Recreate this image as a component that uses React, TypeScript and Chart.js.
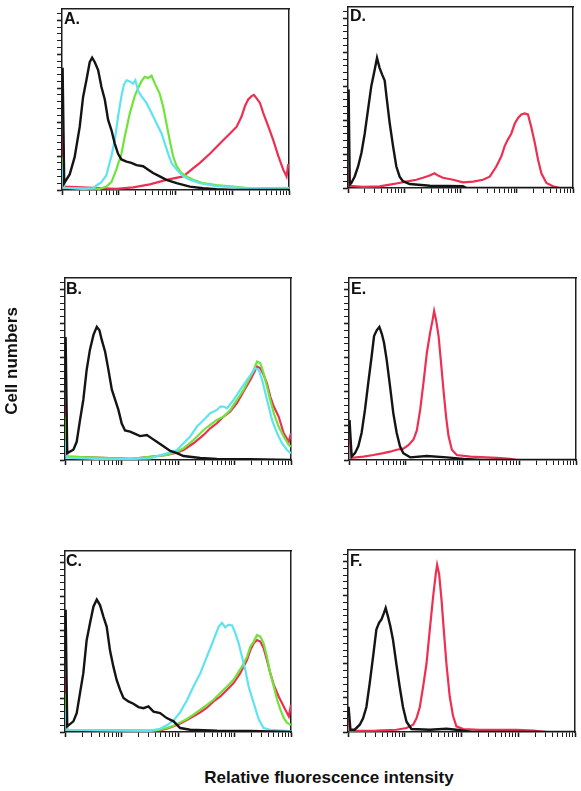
import React, { useEffect, useRef } from 'react';
import { Chart, registerables } from 'chart.js';

Chart.register(...registerables);

// ---------- axis definitions ----------
const channelsPerDecade = 256; // 4-decade log amplifier, 1024 channels
const channelMax = 1024;
const decadeStarts = [1, 10, 100, 1000];
const decadeMultipliers = [1, 2, 3, 4, 5, 6, 7, 8, 9];
const countMax = 160;
const countMinorStep = 6;
const countMajorStep = 30;

// ---------- data: [channel, cell count] ----------
// Panel A
const aBlack: number[][] = [[0,108],[3,104],[10,6],[35,14],[57,29],[80,56],[95,82],[110,97],[125,113],[136,117],[148,113],[163,106],[178,91],[193,80],[208,62],[223,53],[238,41],[253,32],[268,27],[291,25],[313,24],[336,22],[366,21],[389,18],[411,15],[441,12],[471,9],[517,6],[577,3],[637,1.5],[697,0.6],[773,0],[1024,0]];
const aCyan: number[][] = [[0,21],[3,18],[10,2],[95,1],[140,1.5],[155,4],[178,7],[200,13],[223,30],[238,44],[253,65],[268,83],[279,93],[291,97],[306,96],[321,94],[331,97],[343,88],[358,83],[381,77],[404,68],[426,59],[449,50],[464,41],[479,32],[494,24],[517,18],[547,12],[577,9],[622,6],[697,3.5],[773,2.4],[848,1.5],[1024,2]];
const aGreen: number[][] = [[0,29],[3,26],[10,2],[170,1],[200,3],[223,7],[245,18],[268,32],[283,47],[306,68],[328,83],[343,90],[358,96],[373,100],[389,99],[404,101],[419,94],[441,85],[456,74],[471,59],[486,44],[501,30],[517,21],[539,15],[562,12],[592,9],[637,6],[697,4.4],[773,3],[848,1.5],[1024,1]];
const aRed: number[][] = [[0,50],[3,46],[10,3],[245,1],[321,2.4],[396,5],[471,9],[547,12],[584,18],[622,24],[667,32],[697,38],[727,44],[758,50],[788,56],[810,65],[825,74],[840,80],[855,83],[866,84],[878,81],[893,77],[908,68],[931,56],[953,44],[976,30],[998,18],[1013,12],[1020,22],[1024,22]];

// Panel B
const bBlack: number[][] = [[0,108],[3,106],[10,6],[38,9],[53,16],[68,35],[83,53],[98,79],[113,97],[129,110],[144,117],[156,114],[166,106],[182,95],[197,79],[212,62],[227,53],[242,44],[257,32],[272,26],[295,25],[318,23],[340,21],[371,22],[393,19],[416,16],[446,12],[477,8],[507,6],[537,3.5],[613,1.8],[688,1],[840,0.6],[1024,0]];
const bCyan: number[][] = [[0,17],[3,15],[10,2],[200,0.5],[300,1],[386,1.5],[461,5.9],[507,8.8],[537,14.7],[567,20.6],[598,29.4],[628,35.2],[658,41.1],[688,44],[704,47],[719,47],[734,45.5],[764,52.8],[794,61.7],[825,70.5],[847,76.3],[862,80.7],[878,79.3],[893,70.5],[908,58.7],[923,47],[938,35.2],[961,23.5],[983,14.7],[1006,8.8],[1024,5.9]];
const bGreen: number[][] = [[0,38],[3,36],[10,3],[300,1],[461,4.4],[507,7.3],[537,10.3],[582,17.6],[628,26.4],[658,30.8],[688,35.2],[719,38.2],[749,44],[779,52.8],[809,61.7],[840,73.4],[855,79.3],[870,86.6],[885,85.1],[900,76.3],[915,64.6],[930,52.8],[946,41.1],[968,29.4],[991,20.6],[1014,13.2],[1024,11.7]];
const bRed: number[][] = [[0,50],[3,48],[10,3],[300,1],[461,4.4],[507,6.5],[537,8.8],[582,14.7],[628,22],[658,27.9],[688,32.3],[719,38.2],[749,42.6],[779,50],[809,60.2],[840,70.5],[855,76.3],[870,82.2],[885,80.7],[900,74.9],[915,67.5],[930,55.8],[946,47],[968,38.2],[991,23.5],[1014,16],[1024,23.5]];

// Panel C
const cBlack: number[][] = [[0,108],[3,106],[10,5],[38,9.4],[53,16.7],[68,34.4],[83,52],[98,81],[113,96],[129,111],[144,117],[159,112],[174,102],[189,93],[204,72],[219,58],[234,46],[250,37],[265,30],[287,27],[310,25],[333,22],[356,21],[378,22.6],[401,18],[431,16.7],[461,12.3],[492,9.4],[522,3.5],[567,2],[688,1.2],[840,0.9],[1024,0]];
const cCyan: number[][] = [[0,20],[3,18],[10,2],[386,1.2],[431,2.9],[461,5.9],[492,10.3],[522,17.6],[552,27.9],[582,40.2],[613,52],[643,66.6],[673,81.3],[696,93],[711,96.6],[726,92.5],[741,94.8],[757,94.2],[772,87.2],[787,78.4],[802,66.6],[817,54.9],[832,40.2],[855,25.5],[878,10.9],[900,3.5],[930,2],[991,1.2],[1024,0.6]];
const cGreen: number[][] = [[0,34],[3,32],[10,2],[386,1],[431,2],[461,3.5],[492,5.6],[522,8.5],[552,11.5],[582,15.3],[613,19.7],[643,24],[673,28.5],[704,34.4],[734,40.2],[764,46.1],[787,53.4],[802,57.8],[825,66.6],[840,75.5],[855,79.9],[870,85.7],[885,84.3],[900,78.4],[915,66.6],[930,52],[946,40.2],[961,28.5],[976,19.7],[991,12.4],[1006,8],[1024,6.5]];
const cRed: number[][] = [[0,49],[3,47],[10,2],[386,1],[431,1.5],[461,3],[492,5],[522,7.5],[552,10.5],[582,13.8],[613,17.5],[643,21.5],[673,27],[704,31.4],[734,37.3],[764,43.2],[794,52],[825,63.7],[840,72.5],[855,78.4],[870,81.3],[885,79.9],[900,74],[915,63.7],[930,52],[946,41.7],[968,31.4],[991,22.6],[1014,13.8],[1024,24]];

// Panel D
const dBlack: number[][] = [[0,87],[3,84],[8,3],[15,4.4],[30,10],[46,19],[61,31],[76,48],[91,69],[106,90],[121,104],[132,115],[144,106],[156,100],[167,95],[177,78],[190,57],[205,37],[220,19],[235,10],[250,6],[281,3.5],[372,2],[523,1.5],[540,0],[1024,0]];
const dRed: number[][] = [[0,16],[3,14],[8,2],[68,1],[144,1.5],[190,3],[220,4],[265,5.6],[311,7.3],[341,9],[372,11],[394,13],[410,11],[432,9],[478,7.3],[523,5],[569,5.6],[614,7.3],[645,10],[675,19],[698,28],[713,37],[728,43],[743,48],[759,57],[774,62],[789,65],[804,66],[819,65],[834,54],[850,40],[865,25],[880,13],[903,4.4],[933,1.5],[963,0],[1024,0]];

// Panel E
const eBlack: number[][] = [[0,35],[3,33],[12,3],[27,6],[42,12],[57,24],[72,44],[87,68],[102,91],[113,109],[125,114],[137,117],[148,111],[158,103],[170,88],[185,65],[200,41],[215,24],[230,12],[245,6],[276,2.3],[351,3.5],[441,2.3],[517,1],[600,0],[1024,0]];
const eRed: number[][] = [[0,21],[3,19],[12,2],[65,3],[110,4.4],[155,6],[185,7.3],[215,9],[245,10],[268,13],[291,18],[306,26],[321,44],[336,68],[351,94],[366,112],[377,123],[384,131],[393,123],[404,109],[414,88],[426,62],[438,38],[449,21],[464,9],[486,4.4],[547,3],[667,1.8],[727,1],[758,0],[1024,0]];

// Panel F
const fBlack: number[][] = [[0,22],[3,21],[11,2],[30,2],[53,6.4],[68,12],[83,22],[98,43],[113,66],[128,90],[140,96],[151,99],[161,104],[170,109],[181,101],[191,93],[203,81],[218,60],[233,40],[248,22],[264,9],[286,2.6],[369,2],[444,2.9],[489,2],[560,0],[1024,0]];
const fRed: number[][] = [[0,11],[3,10],[10,1],[128,1.2],[218,2],[264,3.5],[294,6.4],[309,12],[324,22],[339,40],[354,60],[369,90],[384,119],[396,139],[402,147],[411,139],[422,116],[432,90],[444,60],[459,31],[474,14],[489,5],[520,2.6],[595,1.8],[761,1.8],[836,1.2],[900,0],[1024,0]];

const panelLabels = ['A.', 'B.', 'C.', 'D.', 'E.', 'F.'];
const yAxisTitle = 'Cell numbers';
const xAxisTitle = 'Relative fluorescence intensity';

// ---------- styles ----------
const BLACK = '#141414';
const CYAN = '#5fe4ee';
const GREEN = '#6fe43a';
const RED = '#ee2f52';
const AXIS = '#1e1e1e';
const FONT = '"Liberation Sans", Arial, Helvetica, sans-serif';

type Series = { data: number[][]; color: string; order: number };
type PanelDef = { label: string; box: { l: number; t: number; r: number; b: number }; labelPos: { x: number; y: number }; series: Series[] };

const panels: PanelDef[] = [
  { label: panelLabels[0], box: { l: 62, t: 9, r: 289, b: 190 }, labelPos: { x: 64, y: 11 },
    series: [{ data: aRed, color: RED, order: 3 }, { data: aGreen, color: GREEN, order: 2 }, { data: aCyan, color: CYAN, order: 1 }, { data: aBlack, color: BLACK, order: 0 }] },
  { label: panelLabels[1], box: { l: 65, t: 278, r: 291, b: 460 }, labelPos: { x: 66, y: 281 },
    series: [{ data: bRed, color: RED, order: 3 }, { data: bGreen, color: GREEN, order: 2 }, { data: bCyan, color: CYAN, order: 1 }, { data: bBlack, color: BLACK, order: 0 }] },
  { label: panelLabels[2], box: { l: 65, t: 551, r: 291, b: 732 }, labelPos: { x: 66, y: 553 },
    series: [{ data: cRed, color: RED, order: 3 }, { data: cGreen, color: GREEN, order: 2 }, { data: cCyan, color: CYAN, order: 1 }, { data: cBlack, color: BLACK, order: 0 }] },
  { label: panelLabels[3], box: { l: 348, t: 7, r: 573, b: 188 }, labelPos: { x: 350, y: 8 },
    series: [{ data: dRed, color: RED, order: 1 }, { data: dBlack, color: BLACK, order: 0 }] },
  { label: panelLabels[4], box: { l: 349, t: 278, r: 576, b: 460 }, labelPos: { x: 351, y: 281 },
    series: [{ data: eRed, color: RED, order: 1 }, { data: eBlack, color: BLACK, order: 0 }] },
  { label: panelLabels[5], box: { l: 348, t: 550, r: 575, b: 732 }, labelPos: { x: 350, y: 553 },
    series: [{ data: fRed, color: RED, order: 1 }, { data: fBlack, color: BLACK, order: 0 }] },
];

const TICK = 5;
const PAD = { left: 1, top: 2, right: 2, bottom: 1 };

function xTicks() {
  const t: { value: number; major: boolean }[] = [];
  for (const d of decadeStarts) {
    for (const m of decadeMultipliers) {
      t.push({ value: channelsPerDecade * Math.log10(m * d), major: m === 1 });
    }
  }
  t.push({ value: channelMax, major: true });
  return t;
}

function yTicks() {
  const t: { value: number; major: boolean }[] = [];
  for (let v = 0; v < countMax; v += countMinorStep) {
    t.push({ value: v, major: v % countMajorStep === 0 });
  }
  return t;
}

function Panel({ p }: { p: PanelDef }) {
  const ref = useRef<HTMLCanvasElement>(null);
  const w = p.box.r - p.box.l + TICK + PAD.left + PAD.right;
  const h = p.box.b - p.box.t + TICK + PAD.top + PAD.bottom;
  const left = p.box.l - TICK - PAD.left;
  const top = p.box.t - PAD.top;

  useEffect(() => {
    const frame = { display: false, drawTicks: false, drawOnChartArea: false };
    const chart = new Chart(ref.current!, {
      type: 'line',
      data: {
        datasets: p.series.map((s) => ({
          data: s.data.map(([x, y]) => ({ x, y })),
          borderColor: s.color,
          borderWidth: s.color === BLACK ? 2.4 : 2.2,
          pointRadius: 0,
          tension: 0,
          fill: false,
          order: s.order,
          borderJoinStyle: 'miter' as const,
        })),
      },
      options: {
        animation: false,
        responsive: false,
        maintainAspectRatio: false,
        events: [],
        layout: { padding: PAD },
        plugins: { legend: { display: false }, tooltip: { enabled: false } },
        scales: {
          x: {
            type: 'linear', position: 'bottom', min: 0, max: channelMax,
            afterBuildTicks: (s: any) => { s.ticks = xTicks(); },
            ticks: { display: false },
            grid: {
              display: true, drawOnChartArea: false, drawTicks: true, tickLength: TICK,
              tickColor: AXIS,
              tickWidth: (ctx: any) => (ctx.tick && ctx.tick.major ? 1.6 : 1),
            },
            border: { display: true, color: AXIS, width: 1.5 },
          },
          y: {
            type: 'linear', position: 'left', min: 0, max: countMax,
            afterBuildTicks: (s: any) => { s.ticks = yTicks(); },
            ticks: { display: false },
            grid: {
              display: true, drawOnChartArea: false, drawTicks: true, tickLength: TICK,
              tickColor: AXIS,
              tickWidth: (ctx: any) => (ctx.tick && ctx.tick.major ? 1.6 : 1),
            },
            border: { display: true, color: AXIS, width: 1.5 },
          },
          xTop: {
            type: 'linear', position: 'top', min: 0, max: channelMax,
            ticks: { display: false }, grid: frame,
            border: { display: true, color: AXIS, width: 1.5 },
          },
          yRight: {
            type: 'linear', position: 'right', min: 0, max: countMax,
            ticks: { display: false }, grid: frame,
            border: { display: true, color: AXIS, width: 1.5 },
          },
        },
      } as any,
    });
    return () => chart.destroy();
  }, []);

  return (
    <>
      <canvas ref={ref} width={w} height={h}
        style={{ position: 'absolute', left, top, width: w, height: h }} />
      <div style={{
        position: 'absolute', left: p.labelPos.x, top: p.labelPos.y,
        font: `bold 16px ${FONT}`, lineHeight: '16px', color: '#111', whiteSpace: 'nowrap',
      }}>{p.label}</div>
    </>
  );
}

export default function App() {
  return (
    <div style={{ position: 'absolute', left: 0, top: 0, width: 581, height: 791, background: '#fff', overflow: 'hidden' }}>
      {panels.map((p) => <Panel key={p.label} p={p} />)}
      <div style={{
        position: 'absolute', left: 11, top: 361, transform: 'translate(-50%, -50%) rotate(-90deg)',
        font: `bold 17px ${FONT}`, lineHeight: '17px', color: '#111', whiteSpace: 'nowrap',
      }}>{yAxisTitle}</div>
      <div style={{
        position: 'absolute', left: 129, top: 769, width: 400, textAlign: 'center',
        font: `bold 17px ${FONT}`, lineHeight: '17px', color: '#111', whiteSpace: 'nowrap',
      }}>{xAxisTitle}</div>
    </div>
  );
}
